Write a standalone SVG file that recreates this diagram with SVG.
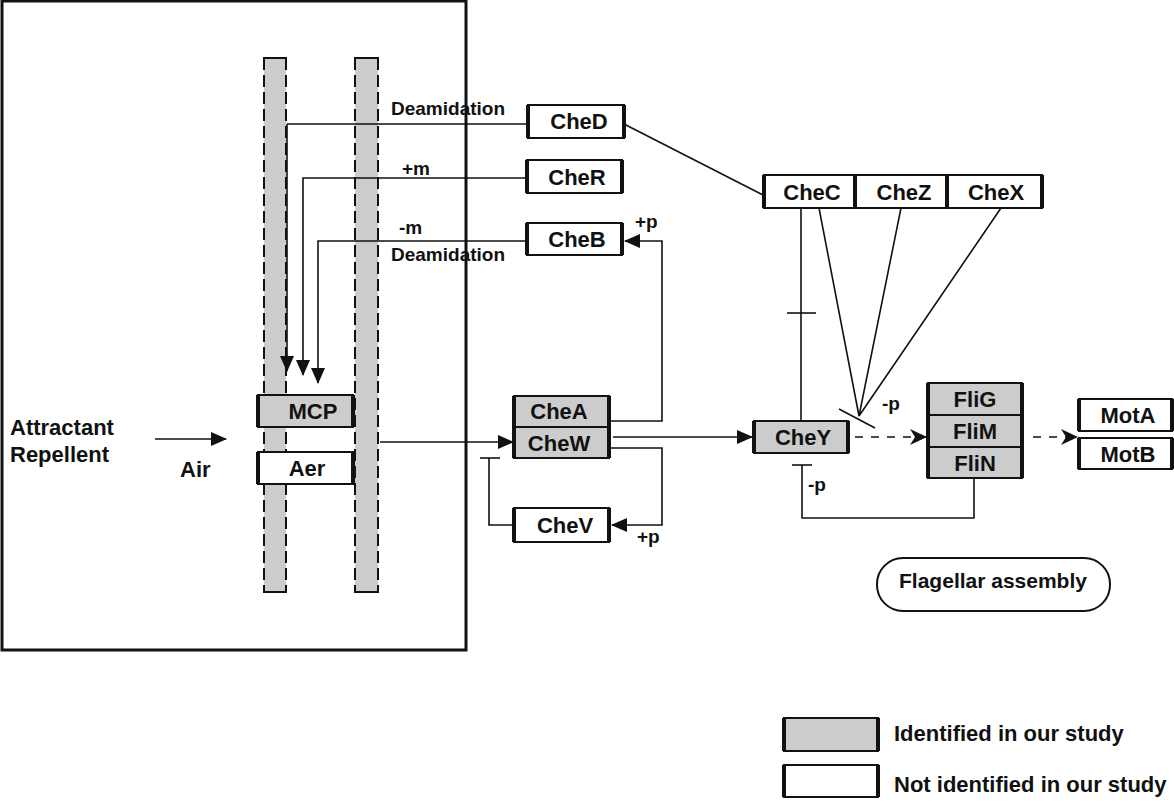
<svg xmlns="http://www.w3.org/2000/svg" width="1174" height="808" viewBox="0 0 1174 808">
<style>
text{font-family:"Liberation Sans",Arial,sans-serif;font-weight:bold;fill:#111}
.bx{font-size:22px;text-anchor:middle}
.lb{font-size:19px}
.big{font-size:22px}
.g{fill:#cccccc}
.w{fill:#ffffff}
.edge{stroke:#111;stroke-width:2}
.side{stroke:#111;stroke-width:4}
.ln{stroke:#111;stroke-width:1.6;fill:none}
.dash{stroke:#111;stroke-width:1.6;fill:none;stroke-dasharray:8 8}
.mem{stroke:#111;stroke-width:2;fill:none;stroke-dasharray:12 5}
</style>
<defs>
<marker id="ah" markerUnits="userSpaceOnUse" markerWidth="16" markerHeight="14" refX="15" refY="7" orient="auto">
<path d="M0,0 L16,7 L0,14 Z" fill="#111"/>
</marker>
<marker id="ah2" markerUnits="userSpaceOnUse" markerWidth="18" markerHeight="16" refX="17" refY="8" orient="auto">
<path d="M0,0 L17,8 L0,16 L5,8 Z" fill="#111"/>
</marker>
</defs>

<g id="frame"><rect x="2" y="1" width="464" height="649" fill="none" stroke="#111" stroke-width="3"/></g>

<g id="membrane">
<rect x="264" y="58" width="22" height="534" class="g"/>
<rect x="355" y="58" width="23" height="534" class="g"/>
<line x1="264" y1="58" x2="264" y2="592" class="mem"/>
<line x1="286" y1="58" x2="286" y2="592" class="mem"/>
<line x1="355" y1="58" x2="355" y2="592" class="mem"/>
<line x1="378" y1="58" x2="378" y2="592" class="mem"/>
<line x1="263" y1="58" x2="287" y2="58" class="edge"/>
<line x1="354" y1="58" x2="379" y2="58" class="edge"/>
<line x1="263" y1="592" x2="287" y2="592" class="edge"/>
<line x1="354" y1="592" x2="379" y2="592" class="edge"/>
</g>

<g id="connectors">
<path d="M287,124 H528" class="ln"/>
<path d="M287,124 V371" class="ln" marker-end="url(#ah)"/>
<path d="M527,178 H303 V375" class="ln" marker-end="url(#ah)"/>
<path d="M527,241 H318 V383" class="ln" marker-end="url(#ah)"/>
<path d="M155,439 H226" class="ln" marker-end="url(#ah)"/>
<path d="M380,442 H513" class="ln" marker-end="url(#ah)"/>
<path d="M609,421 H662 V241 H625" class="ln" marker-end="url(#ah)"/>
<path d="M609,448 H662 V525 H612" class="ln" marker-end="url(#ah)"/>
<path d="M513,525 H489 V458" class="ln"/>
<path d="M480,458 H500" class="ln" stroke-width="2"/>
<path d="M613,437 H752" class="ln" marker-end="url(#ah)"/>
<path d="M624,124 L763,195" class="ln"/>
<path d="M801,208 V421" class="ln"/>
<path d="M787,313 H816" class="ln" stroke-width="2"/>
<path d="M819,208 L859,416 M901,208 L859,416 M1001,208 L859,416" class="ln"/>
<path d="M839,409 L875,428" class="ln" stroke-width="2"/>
<path d="M792,465 H812" class="ln" stroke-width="2"/>
<path d="M802,465 V518 H974 V478" class="ln"/>
<path d="M855,437 H927" class="dash" marker-end="url(#ah2)"/>
<path d="M1033,437 H1078" class="dash" marker-end="url(#ah2)"/>
</g>

<g id="labels">
<text x="391" y="115" class="lb">Deamidation</text>
<text x="402" y="175" class="lb">+m</text>
<text x="399" y="234" class="lb">-m</text>
<text x="391" y="261" class="lb">Deamidation</text>
<text x="635" y="228" class="lb">+p</text>
<text x="637" y="543" class="lb">+p</text>
<text x="882" y="410" class="lb">-p</text>
<text x="808" y="491" class="lb">-p</text>
<text x="10" y="435" class="big">Attractant</text>
<text x="10" y="462" class="big">Repellent</text>
<text x="180" y="477" class="big">Air</text>
</g>

<g id="MCP"><rect x="258" y="395" width="95" height="32" class="g edge"/><line x1="258" y1="395" x2="258" y2="427" class="side"/><line x1="353" y1="395" x2="353" y2="427" class="side"/><text x="313" y="419" class="bx">MCP</text></g>
<g id="Aer"><rect x="258" y="452" width="95" height="32" class="w edge"/><line x1="258" y1="452" x2="258" y2="484" class="side"/><line x1="353" y1="452" x2="353" y2="484" class="side"/><text x="307" y="476" class="bx">Aer</text></g>

<g id="CheD"><rect x="528" y="105" width="96" height="33" class="w edge"/><line x1="528" y1="105" x2="528" y2="138" class="side"/><line x1="624" y1="105" x2="624" y2="138" class="side"/><text x="579" y="129" class="bx">CheD</text></g>
<g id="CheR"><rect x="527" y="160" width="95" height="33" class="w edge"/><line x1="527" y1="160" x2="527" y2="193" class="side"/><line x1="622" y1="160" x2="622" y2="193" class="side"/><text x="577" y="185" class="bx">CheR</text></g>
<g id="CheB"><rect x="527" y="223" width="95" height="32" class="w edge"/><line x1="527" y1="223" x2="527" y2="255" class="side"/><line x1="622" y1="223" x2="622" y2="255" class="side"/><text x="577" y="247" class="bx">CheB</text></g>

<g id="CheA"><rect x="514" y="396" width="95" height="31" class="g edge"/><text x="559" y="419" class="bx">CheA</text></g>
<g id="CheW"><rect x="514" y="427" width="95" height="31" class="g edge"/><text x="559" y="451" class="bx">CheW</text><line x1="514" y1="396" x2="514" y2="458" class="side"/><line x1="609" y1="396" x2="609" y2="458" class="side"/></g>
<g id="CheV"><rect x="514" y="508" width="95" height="34" class="w edge"/><line x1="514" y1="508" x2="514" y2="542" class="side"/><line x1="609" y1="508" x2="609" y2="542" class="side"/><text x="565" y="533" class="bx">CheV</text></g>

<g id="CheC"><rect x="764" y="175" width="91" height="33" class="w edge"/><text x="812" y="200" class="bx">CheC</text></g>
<g id="CheZ"><rect x="855" y="175" width="92" height="33" class="w edge"/><text x="904" y="200" class="bx">CheZ</text></g>
<g id="CheX"><rect x="947" y="175" width="95" height="33" class="w edge"/><text x="996" y="200" class="bx">CheX</text><line x1="764" y1="175" x2="764" y2="208" class="side"/><line x1="855" y1="175" x2="855" y2="208" class="side"/><line x1="947" y1="175" x2="947" y2="208" class="side"/><line x1="1042" y1="175" x2="1042" y2="208" class="side"/></g>

<g id="CheY"><rect x="754" y="421" width="94" height="32" class="g edge"/><line x1="754" y1="421" x2="754" y2="453" class="side"/><line x1="848" y1="421" x2="848" y2="453" class="side"/><text x="803" y="445" class="bx">CheY</text></g>

<g id="FliG"><rect x="928" y="383" width="94" height="32" class="g edge"/><text x="975" y="407" class="bx">FliG</text></g>
<g id="FliM"><rect x="928" y="415" width="94" height="32" class="g edge"/><text x="975" y="439" class="bx">FliM</text></g>
<g id="FliN"><rect x="928" y="447" width="94" height="31" class="g edge"/><text x="975" y="471" class="bx">FliN</text><line x1="928" y1="383" x2="928" y2="478" class="side"/><line x1="1022" y1="383" x2="1022" y2="478" class="side"/></g>

<g id="MotA"><rect x="1079" y="399" width="93" height="32" class="w edge"/><line x1="1079" y1="399" x2="1079" y2="431" class="side"/><line x1="1172" y1="399" x2="1172" y2="431" class="side"/><text x="1128" y="423" class="bx">MotA</text></g>
<g id="MotB"><rect x="1079" y="438" width="93" height="31" class="w edge"/><line x1="1079" y1="438" x2="1079" y2="469" class="side"/><line x1="1172" y1="438" x2="1172" y2="469" class="side"/><text x="1128" y="462" class="bx">MotB</text></g>

<g id="Flagellar"><rect x="877" y="558" width="233" height="53" rx="26" ry="26" fill="#fff" stroke="#111" stroke-width="2"/><text x="993" y="588" class="bx" style="font-size:21px">Flagellar assembly</text></g>

<g id="legend">
<rect x="784" y="718" width="94" height="33" class="g edge"/><line x1="784" y1="718" x2="784" y2="751" class="side"/><line x1="878" y1="718" x2="878" y2="751" class="side"/>
<text x="894" y="741" class="big">Identified in our study</text>
<rect x="784" y="765" width="94" height="32" class="w edge"/><line x1="784" y1="765" x2="784" y2="797" class="side"/><line x1="878" y1="765" x2="878" y2="797" class="side"/>
<text x="894" y="792" class="big">Not identified in our study</text>
</g>
</svg>
